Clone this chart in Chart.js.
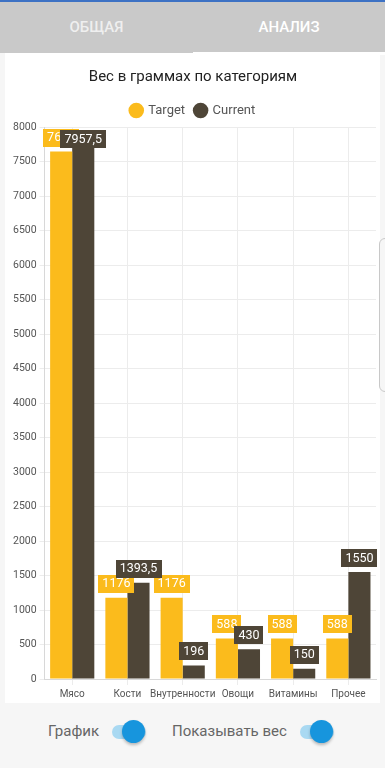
<!DOCTYPE html>
<html><head><meta charset="utf-8">
<script src="https://cdn.jsdelivr.net/npm/chart.js@4"></script>
<style>
html,body{margin:0;padding:0;width:385px;height:768px;overflow:hidden;background:#f6f6f6;font-family:Roboto,"Noto Sans",sans-serif;}
#topline{position:absolute;left:0;top:0;width:385px;height:2px;background:#3d72c4;}
#tabs{position:absolute;left:0;top:2px;width:385px;height:51px;background:#c9c9c9;}
.tab{position:absolute;top:0;height:51px;line-height:50px;text-align:center;font-size:15px;font-weight:500;color:#fff;}
#t1{left:0;width:193px;color:rgba(255,255,255,0.72);}
#t2{left:193px;width:192px;}
#ind{position:absolute;left:193px;top:50px;width:192px;height:3px;background:#fff;}
#card{position:absolute;left:5px;top:53px;width:375px;height:650px;background:#fff;}
#cv{position:absolute;left:0;top:0;}
#handle{position:absolute;left:379px;top:238px;width:10px;height:152px;border:1px solid #c8c8c8;border-radius:7px;background:#f6f6f6;}
.lbl{position:absolute;top:720px;font-size:15px;color:#666;line-height:22px;}
.track{position:absolute;top:725px;width:34px;height:14px;border-radius:7px;background:#a9d9f2;}
.thumb{position:absolute;top:720px;width:23px;height:23px;border-radius:50%;background:#1795dd;box-shadow:0 2px 3px rgba(0,0,0,0.25);}
</style></head>
<body>
<div id="topline"></div>
<div id="tabs"><div class="tab" id="t1">ОБЩАЯ</div><div class="tab" id="t2">АНАЛИЗ</div><div id="ind"></div></div>
<div id="card"><canvas id="cv" width="375" height="650"></canvas></div>
<div id="handle"></div>
<div class="lbl" style="left:48px">График</div>
<div class="track" style="left:112px"></div>
<div class="thumb" style="left:122px"></div>
<div class="lbl" style="left:172px">Показывать вес</div>
<div class="track" style="left:300px"></div>
<div class="thumb" style="left:310px"></div>
<script>
const categories = ["Мясо","Кости","Внутренности","Овощи","Витамины","Прочее"];
const targetValues = [7644, 1176, 1176, 588, 588, 588];
const currentValues = [7957.5, 1393.5, 196, 430, 150, 1550];
const seriesNames = ["Target","Current"];
const yTicks = {min:0, max:8000, step:500};
const colYellow = "#fbbb1c";
const colDark = "#4e4537";

const valueLabels = {
  id:'valueLabels',
  afterDatasetsDraw(chart){
    const ctx = chart.ctx, area = chart.chartArea;
    ctx.save();
    ctx.font = "12.5px Roboto";
    ctx.textAlign = "center";
    ctx.textBaseline = "middle";
    chart.data.datasets.forEach((ds, di) => {
      const meta = chart.getDatasetMeta(di);
      meta.data.forEach((el, i) => {
        const v = ds.data[i];
        const txt = String(v).replace('.', ',');
        const w = ctx.measureText(txt).width + 8;
        const h = 18;
        let top = el.y - 5 - h;
        if (top < area.top) top = el.y;
        ctx.fillStyle = ds.backgroundColor;
        ctx.fillRect(Math.round(el.x - w/2), Math.round(top), Math.round(w), h);
        ctx.fillStyle = "#fff";
        ctx.fillText(txt, el.x, top + h/2 + 0.5);
      });
    });
    ctx.restore();
  }
};

new Chart(document.getElementById('cv'), {
  type:'bar',
  data:{
    labels:categories,
    datasets:[
      {label:seriesNames[0], data:targetValues, backgroundColor:colYellow, barPercentage:1, categoryPercentage:0.8},
      {label:seriesNames[1], data:currentValues, backgroundColor:colDark, barPercentage:1, categoryPercentage:0.8}
    ]
  },
  options:{
    responsive:false, animation:false,
    layout:{padding:{left:5,right:4,bottom:0,top:0}},
    plugins:{
      title:{display:true, text:"Вес в граммах по категориям", color:"#222", font:{family:"Roboto", size:15, weight:"normal"}, padding:{top:15,bottom:8}},
      legend:{maxHeight:33, labels:{usePointStyle:true, pointStyle:'circle', boxWidth:11, boxHeight:11, color:"#555", font:{family:"Roboto", size:13}, padding:10}},
      tooltip:{enabled:false}
    },
    scales:{
      x:{grid:{offset:false, color:"#ececec", tickLength:6}, border:{color:"#d8d8d8"}, ticks:{color:"#555", font:{family:"Roboto", size:10}, maxRotation:0, autoSkip:false, padding:3}},
      y:{min:yTicks.min, max:yTicks.max, grid:{color:"#ececec", tickLength:5}, border:{color:"#d8d8d8"}, ticks:{stepSize:yTicks.step, color:"#555", font:{family:"Roboto", size:10.5}, padding:3, callback:(v)=>String(v)}}
    }
  },
  plugins:[valueLabels]
});
</script>
</body></html>
